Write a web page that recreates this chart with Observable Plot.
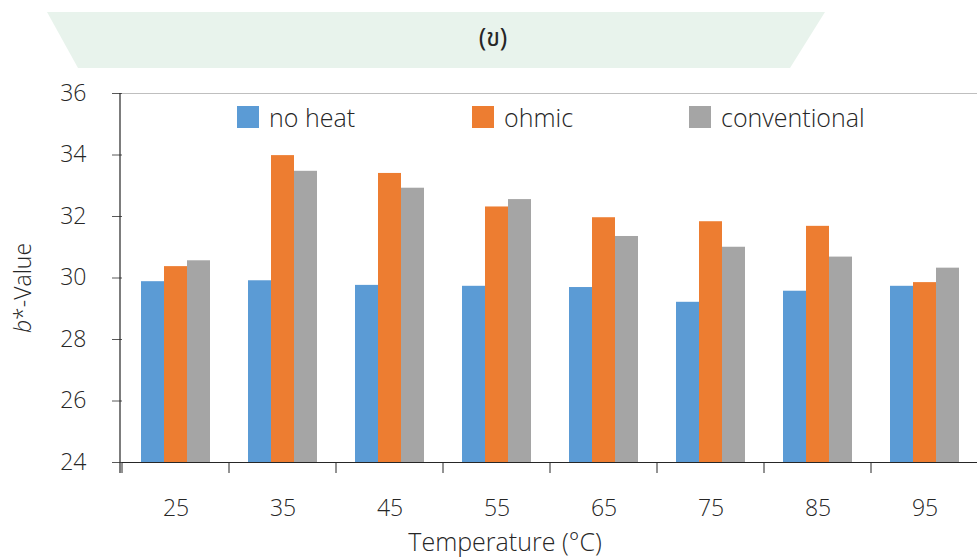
<!DOCTYPE html>
<html>
<head>
<meta charset="utf-8">
<script src="https://cdn.jsdelivr.net/npm/d3@7"></script>
<script src="https://cdn.jsdelivr.net/npm/@observablehq/plot@0.6"></script>
<style>
  html, body { margin: 0; padding: 0; background: #fff; }
  #wrap { position: relative; width: 977px; height: 558px; overflow: hidden; font-family: "Open Sans", "Noto Sans", sans-serif; font-weight: 300; color: #262626; }
  #wm { position: absolute; left: 0; top: 0; z-index: 0; }
  #chart { position: absolute; left: 0; top: 0; z-index: 1; }
  .title { position: absolute; left: 493px; top: 38px; transform: translate(-50%, -50%); font-size: 25px; font-weight: 400; z-index: 2; font-family: "Noto Sans Thai", "Noto Serif Thai", "DejaVu Serif", serif; }
  .ylabel { position: absolute; left: 22px; top: 288px; transform: translate(-50%, -50%) rotate(-90deg); font-size: 23px; white-space: nowrap; z-index: 2; }
  .xlabel { position: absolute; left: 505px; top: 541px; transform: translate(-50%, -50%); font-size: 25px; line-height: 1; white-space: nowrap; z-index: 2; }
  .leg { position: absolute; top: 106px; height: 22px; display: flex; align-items: center; font-size: 25px; white-space: nowrap; z-index: 2; }
  .leg span.sw { display: inline-block; width: 22px; height: 22px; margin-right: 10px; }
  #chart svg text { font-weight: 300; }
</style>
</head>
<body>
<div id="wrap">
  <svg id="wm" width="977" height="558">
    <polygon points="47,12 825,12 790,68 78,68" fill="#e8f3ec"/>
  </svg>
  <div id="chart"></div>
  <div class="title">(ข)</div>
  <div class="ylabel"><i>b</i>*-Value</div>
  <div class="xlabel">Temperature (°C)</div>
  <div id="legend"></div>
</div>
<script>
const categories = ["25", "35", "45", "55", "65", "75", "85", "95"];
const series = ["no heat", "ohmic", "conventional"];
const noHeat = [29.88, 29.91, 29.76, 29.73, 29.69, 29.21, 29.57, 29.73];
const ohmic = [30.37, 33.98, 33.40, 32.31, 31.96, 31.83, 31.68, 29.85];
const conventional = [30.56, 33.47, 32.92, 32.55, 31.35, 31.00, 30.68, 30.32];
const colors = ["#5b9bd5", "#ed7d31", "#a5a5a5"];
const yTicks = [24, 26, 28, 30, 32, 34, 36];
const legendX = [237, 472, 689];

const seriesValues = [noHeat, ohmic, conventional];
const data = categories.flatMap((c, i) =>
  series.map((s, j) => ({ temp: c, series: s, value: seriesValues[j][i] }))
);

const plot = Plot.plot({
  width: 977,
  height: 558,
  marginTop: 93,
  marginBottom: 96,
  marginLeft: 120,
  marginRight: -3,
  style: { fontFamily: "'Open Sans', 'Noto Sans', sans-serif", fontSize: "23px", color: "#262626", background: "transparent", overflow: "visible" },
  fx: { domain: categories, paddingInner: 0, paddingOuter: 0, label: null },
  x: { domain: series, paddingInner: 0, paddingOuter: 0.74, axis: null },
  y: { domain: [24, 36], label: null },
  color: { domain: series, range: colors },
  marks: [
    Plot.barY(data, { fx: "temp", x: "series", y1: 24, y2: "value", fill: "series" }),
    Plot.ruleY([36], { stroke: "#bfbfbf", strokeWidth: 1 }),
    Plot.ruleY([24], { stroke: "#262626", strokeWidth: 1.2 }),
    Plot.axisY(yTicks, { tickSize: 10, tickPadding: 26, fontSize: 23, stroke: "#595959", fill: "#262626", label: null }),
    Plot.axisFx({ anchor: "bottom", tickSize: 0, tickPadding: 37, fontSize: 23, fill: "#262626", label: null })
  ]
});
document.getElementById("chart").appendChild(plot);

// Category boundary ticks and the y-axis line, from the plot's own scales
const fx = plot.scale("fx");
const y = plot.scale("y");
const svg = d3.select(plot);
const x0 = fx.range[0];
const bounds = categories.map(c => fx.apply(c)).concat([fx.range[1]]);
const yBase = y.apply(24);
const yTop = y.apply(36);
svg.append("g")
  .attr("stroke", "#262626")
  .selectAll("line")
  .data(bounds)
  .join("line")
  .attr("x1", d => d).attr("x2", d => d)
  .attr("y1", yBase).attr("y2", yBase + 11);
svg.append("line")
  .attr("stroke", "#262626").attr("stroke-width", 1.2)
  .attr("x1", x0).attr("x2", x0)
  .attr("y1", yTop).attr("y2", yBase + 11);

// Legend
const leg = document.getElementById("legend");
series.forEach((s, i) => {
  const d = document.createElement("div");
  d.className = "leg";
  d.style.left = legendX[i] + "px";
  d.innerHTML = `<span class="sw" style="background:${colors[i]}"></span>${s}`;
  leg.appendChild(d);
});
</script>
</body>
</html>
